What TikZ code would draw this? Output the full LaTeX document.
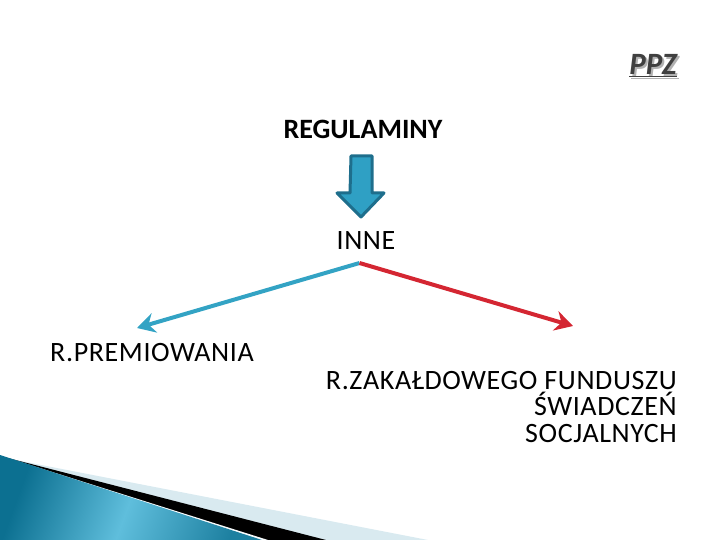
\documentclass[tikz,border=0pt]{standalone}
\usepackage{fontspec}
\setmainfont{Carlito}
\newfontfamily\wideface[LetterSpace=2.2]{Carlito}
\usetikzlibrary{arrows.meta,shadings}
\definecolor{linkblue}{RGB}{51,163,196}
\definecolor{linkred}{RGB}{212,38,50}
\definecolor{arrowfill}{RGB}{47,160,196}
\definecolor{arrowedge}{RGB}{30,110,140}
\definecolor{pale}{RGB}{217,234,240}
\definecolor{deepteal}{RGB}{12,112,145}
\definecolor{lightteal}{RGB}{95,190,220}
\tikzset{
  lbl/.style={inner sep=0pt, font=\wideface\fontsize{28}{26.5}\selectfont},
  link/.style={line width=4pt, -{Stealth[length=18pt,width=20pt,inset=6pt]}},
}
\begin{document}
\begin{tikzpicture}[x=1pt,y=-1pt]
\useasboundingbox (0,0) rectangle (720,540);
% bottom-left decoration
\fill[pale] (0,457) -- (428,540) -- (0,540) -- cycle;
\fill[black] (0,456) -- (326,540) -- (0,540) -- cycle;
\fill[white!85!pale] (0,455.5) -- (268,540) -- (0,540) -- cycle;
\shade[left color=deepteal, right color=deepteal!80!lightteal, middle color=lightteal, shading angle=70]
  (0,455) -- (262,540) -- (0,540) -- cycle;
% PPZ
\node[inner sep=0pt, anchor=base east, text=black!75, font=\fontsize{31}{34}\selectfont\bfseries\itshape] (ppz) at (677,75)
  {\rlap{\hspace{2pt}\raisebox{-2pt}{\color{black!30}\underline{PPZ}}}\underline{PPZ}};
% REGULAMINY
\node[inner sep=0pt, anchor=base, font=\fontsize{28}{32}\selectfont\bfseries] (reg) at (363,139) {REGULAMINY};
% block arrow
\draw[fill=arrowfill, draw=arrowedge, line width=3pt, line join=round]
  (351,156) -- (372,156) -- (372,193) -- (384,193) -- (361,217) -- (337,193) -- (350,193) -- cycle;
% INNE
\node[lbl, anchor=base] (inne) at (366,249) {INNE};
\coordinate (top) at (359.5,263);
\coordinate (lefttip) at (137,328);
\coordinate (righttip) at (573,326);
\draw[link, linkblue] (top) -- (lefttip);
\draw[link, linkred] (top) -- (righttip);
% bottom labels
\node[lbl, anchor=base west] (prem) at (50,361) {R.PREMIOWANIA};
\node[lbl, anchor=base east] (zfss1) at (677,389) {R.ZAKAŁDOWEGO FUNDUSZU};
\node[lbl, anchor=base east] (zfss2) at (677,415.5) {ŚWIADCZEŃ};
\node[lbl, anchor=base east] (zfss3) at (677,442) {SOCJALNYCH};
\end{tikzpicture}
\end{document}
